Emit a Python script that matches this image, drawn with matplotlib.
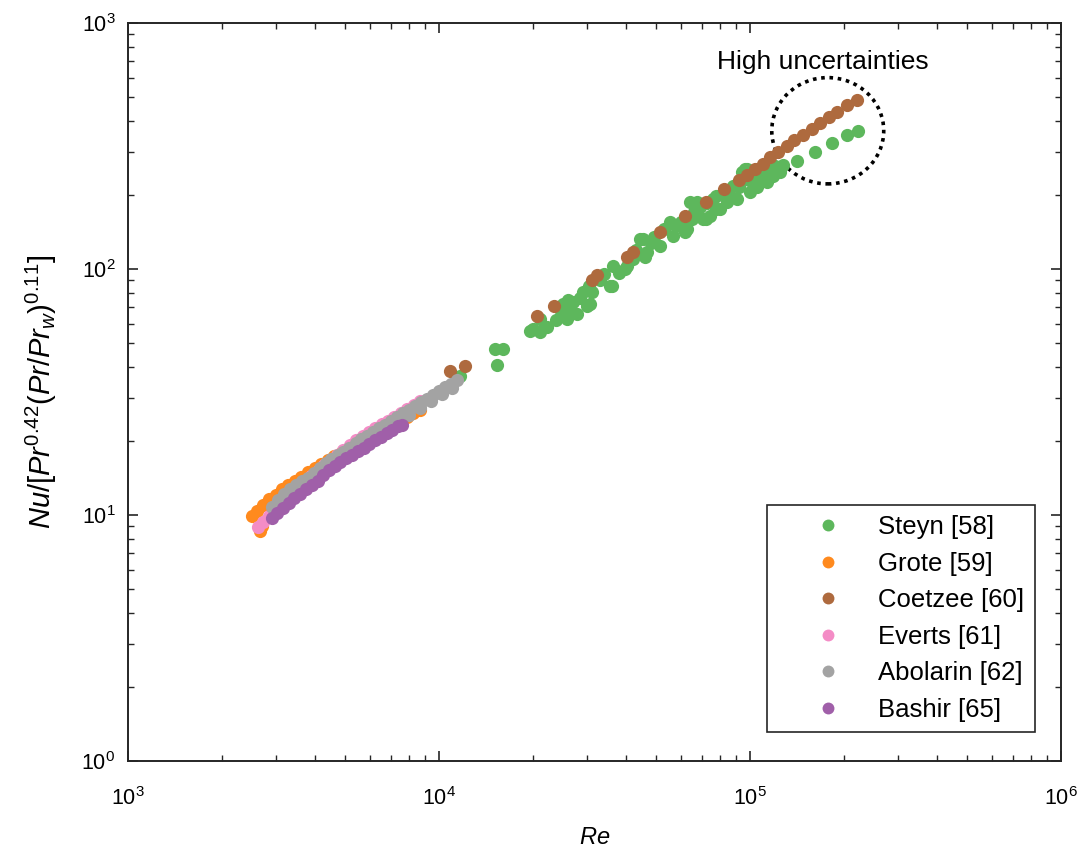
import matplotlib
matplotlib.use("Agg")
import matplotlib.pyplot as plt
from matplotlib.patches import Ellipse

plt.rcParams['font.family'] = ['Liberation Sans', 'DejaVu Sans']
plt.rcParams['mathtext.fontset'] = 'custom'
plt.rcParams['mathtext.rm'] = 'Liberation Sans'
plt.rcParams['mathtext.it'] = 'Liberation Sans:italic'
plt.rcParams['mathtext.bf'] = 'Liberation Sans:bold'

# ---- data: Reynolds number and normalised Nusselt number per study ----
steyn_re = [11700, 15130, 16060, 15380, 19630, 20000, 21100, 22200, 21100,
            23800, 24500, 25060, 25200, 25800, 26000, 26400, 27000, 27800,
            28500, 29000, 29900, 30600, 31100, 30300, 33000, 34000, 35500,
            36000, 36200, 38000, 39600, 40200, 42100, 43000, 44300, 45300,
            45900, 46700, 48000, 49000, 51400, 53000, 55300, 56400, 58000,
            60000, 61800, 62700, 62700, 64100, 65000, 66000, 67600, 69000,
            70600, 72200, 73000, 74300, 76000, 77900, 77900, 80100, 81600,
            83000, 84300, 86000, 88100, 90900, 92000, 94200, 94800, 96300,
            97700, 99000, 100000, 101800, 104000, 105000, 107000, 107000,
            110000, 112000, 113000, 115000, 118500, 120000, 122000, 125000,
            128000,
            141600, 161800, 183500, 205000, 222500]
steyn_nu = [36.9, 47.4, 47.4, 40.9, 56.1, 57.2, 55.5, 58.3, 62.8,
            62.0, 69.0, 72.2, 66.0, 62.8, 75.0, 67.6, 73.5, 65.7,
            76.0, 80.7, 70.8, 72.2, 80.7, 85.3, 90.0, 95.0, 85.3,
            85.3, 103, 96.0, 100, 103, 110, 120, 132, 132,
            112, 117, 128, 135, 124, 145, 155, 136, 150,
            155, 142, 145, 159, 187, 160, 170, 187, 178,
            159, 159, 185, 164, 192, 175, 198, 175, 201,
            205, 187, 198, 217, 192, 215, 247, 231, 254,
            254, 240, 205, 225, 236, 215, 225, 254,
            247, 240, 225, 260, 238, 262, 247, 247,
            265,
            274, 300, 324, 349, 365]

grote_re = [2500, 2650, 2700, 2600, 2720, 2850, 2990, 3130, 3280, 3440, 3610,
            3790, 3980, 4180, 4390, 4610, 4840, 5080, 5330, 5600, 5880,
            6170, 6480, 6800, 7140, 7500, 7880, 8270, 8680]
grote_nu = [9.9, 8.6, 9.0, 10.4, 11.0, 11.6, 12.1, 12.7, 13.2, 13.8, 14.3,
            14.9, 15.5, 16.1, 16.7, 17.3, 17.9, 18.6, 19.2, 19.9, 20.6,
            21.3, 22.0, 22.8, 23.5, 24.3, 25.1, 25.9, 26.8]

coetzee_re = [10840, 12130, 20650, 23400, 31000, 32200, 40300, 42000, 51400,
              61800, 72200, 82500, 92200, 98000, 103800, 110000, 116000,
              123000, 131500, 139000, 148000, 158000, 168000, 179000,
              190500, 205000, 221000]
coetzee_nu = [38.6, 40.5, 64.5, 70.8, 90.5, 94.5, 112, 117, 141,
              164, 188, 211, 231, 242, 254, 268, 284,
              298, 315, 333, 352, 372, 394, 414,
              436, 462, 488]

everts_re = [2620, 2720, 2830, 2950, 3080, 3220, 3370, 3530, 3700, 3880,
             4070, 4270, 4480, 4700, 4930, 5170, 5420, 5680, 5950, 6240,
             6540, 6860, 7190, 7540, 7900, 8280, 8680]
everts_nu = [8.9, 9.4, 9.9, 10.5, 11.1, 11.7, 12.3, 13.0, 13.7, 14.4,
             15.1, 15.9, 16.7, 17.5, 18.4, 19.3, 20.1, 20.9, 21.7, 22.5,
             23.4, 24.2, 25.1, 26.0, 27.0, 28.0, 29.0]

abolarin_re = [2900, 3030, 3170, 3310, 3460, 3620, 3780, 3950, 4130, 4320,
               4510, 4720, 4930, 5150, 5390, 5630, 5880, 6150, 6430, 6720,
               7020, 7340, 7670, 8020, 8380, 8760, 9150, 9560, 10000, 10450,
               10900, 11400,
               3100, 3400, 3700, 4050, 4400, 4800, 5250, 5700, 6200, 6750,
               7350, 8000, 8700, 9450, 10250, 11000]
abolarin_nu = [10.8, 11.5, 12.2, 12.8, 13.3, 13.8, 14.2, 14.8, 15.5, 16.2,
               16.9, 17.6, 18.1, 18.8, 19.6, 20.3, 21.0, 21.8, 22.6, 23.3,
               24.1, 25.0, 25.9, 26.8, 27.7, 28.7, 29.7, 30.8, 31.9, 33.0,
               34.1, 35.4,
               11.3, 12.5, 13.6, 14.8, 15.9, 17.0, 18.4, 19.6, 21.0, 22.4,
               23.9, 25.5, 27.2, 29.0, 30.9, 32.7]

bashir_re = [2900, 3020, 3150, 3290, 3430, 3580, 3740, 3900, 4070, 4250,
             4430, 4620, 4820, 5030, 5250, 5480, 5720, 5970, 6230, 6500,
             6780, 7070, 7380, 7600]
bashir_nu = [9.7, 10.2, 10.7, 11.2, 11.7, 12.2, 12.7, 13.2, 13.8, 14.5,
             15.2, 15.8, 16.4, 17.0, 17.6, 18.2, 18.8, 19.5, 20.1, 20.8,
             21.5, 22.2, 22.9, 23.3]

labels = ['Steyn [58]', 'Grote [59]', 'Coetzee [60]', 'Everts [61]',
          'Abolarin [62]', 'Bashir [65]']
colors = ['#5db75c', '#ff8a1e', '#ae6a3e', '#f48cc6', '#a3a3a3', '#a05fa9']

series = [(steyn_re, steyn_nu), (grote_re, grote_nu), (coetzee_re, coetzee_nu),
          (everts_re, everts_nu), (abolarin_re, abolarin_nu),
          (bashir_re, bashir_nu)]

fig = plt.figure(figsize=(10.9, 8.51), dpi=100)
ax = fig.add_axes([128 / 1090, 1 - 761 / 851, 933 / 1090, 738 / 851])

for (re, nu), lab, col in zip(series, labels, colors):
    ax.plot(re, nu, linestyle='none', marker='o', markersize=9.5,
            markerfacecolor=col, markeredgecolor='none', label=lab)

ax.set_xscale('log')
ax.set_yscale('log')
ax.set_xlim(1e3, 1e6)
ax.set_ylim(1e0, 1e3)

edge = '#262626'
for sp in ax.spines.values():
    sp.set_linewidth(1.4)
    sp.set_color(edge)
ax.tick_params(which='both', direction='in', top=True, right=True,
               color=edge, labelcolor='black')
ax.tick_params(which='major', length=7, width=1.2, labelsize=15.5)
ax.tick_params(axis='y', which='major', pad=9)
ax.tick_params(axis='x', which='major', pad=19)
ax.tick_params(which='minor', length=4, width=1.0)

ax.set_xlabel(r'$Re$', fontsize=17, labelpad=12)
ax.set_ylabel(r'$Nu/[Pr^{0.42}(Pr/Pr_{w})^{0.11}]$', fontsize=21,
              labelpad=16)

# dotted circle around the high-Re points
ax.add_patch(Ellipse((0.750, 0.854), 0.120, 0.144, transform=ax.transAxes,
                     fill=False, edgecolor='black', linewidth=2.6,
                     linestyle=(0, (1, 1.3))))
ax.text(0.745, 0.947, 'High uncertainties', transform=ax.transAxes,
        ha='center', va='center', fontsize=19)

leg = ax.legend(loc='lower right', bbox_to_anchor=(0.972, 0.039),
                fontsize=18.5, handlelength=3.95, handletextpad=0.0,
                labelspacing=0.49, borderpad=0.4, markerscale=0.9,
                frameon=True, fancybox=False, framealpha=1.0,
                borderaxespad=0.0)
leg.get_frame().set_edgecolor(edge)
leg.get_frame().set_linewidth(1.2)

fig.savefig('out.png', dpi=100)
